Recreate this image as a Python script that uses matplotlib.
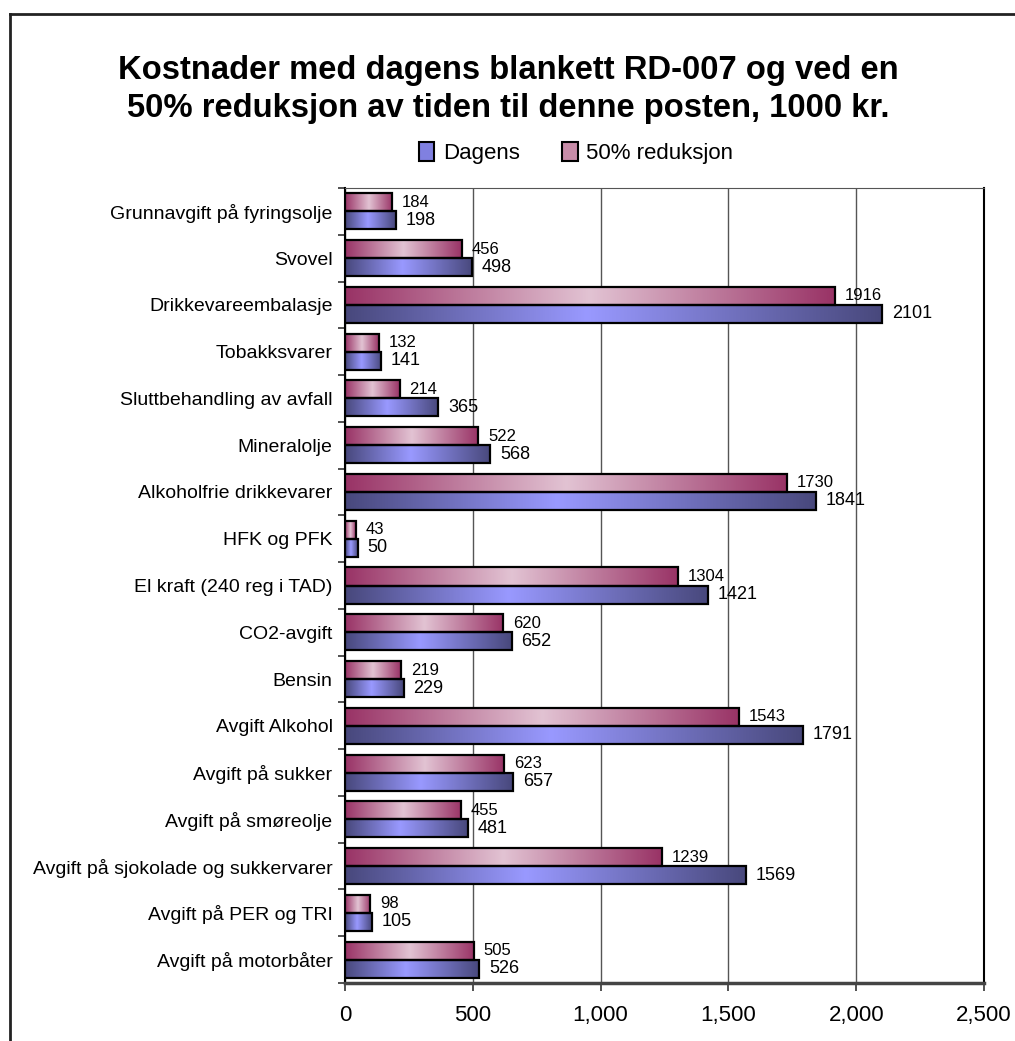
import numpy as np
import matplotlib
matplotlib.use("Agg")
import matplotlib.pyplot as plt
from matplotlib.colors import LinearSegmentedColormap
from matplotlib.patches import Patch
from matplotlib.lines import Line2D

plt.rcParams['font.family'] = ['Liberation Sans', 'DejaVu Sans']

categories = [
    "Grunnavgift på fyringsolje",
    "Svovel",
    "Drikkevareembalasje",
    "Tobakksvarer",
    "Sluttbehandling av avfall",
    "Mineralolje",
    "Alkoholfrie drikkevarer",
    "HFK og PFK",
    "El kraft (240 reg i TAD)",
    "CO2-avgift",
    "Bensin",
    "Avgift Alkohol",
    "Avgift på sukker",
    "Avgift på smøreolje",
    "Avgift på sjokolade og sukkervarer",
    "Avgift på PER og TRI",
    "Avgift på motorbåter",
]
dagens = [198, 498, 2101, 141, 365, 568, 1841, 50, 1421, 652, 229, 1791, 657, 481, 1569, 105, 526]
reduksjon = [184, 456, 1916, 132, 214, 522, 1730, 43, 1304, 620, 219, 1543, 623, 455, 1239, 98, 505]
xticks = [0, 500, 1000, 1500, 2000, 2500]

W, H = 1015, 1041
fig = plt.figure(figsize=(W / 100, H / 100), dpi=100)

# outer chart frame (runs off the right and bottom edge)
fig.add_artist(Line2D([10 / W, 10 / W], [0, 1 - 14 / H], color="#222222", lw=2))
fig.add_artist(Line2D([10 / W, 1], [1 - 14 / H, 1 - 14 / H], color="#222222", lw=2))

ax = fig.add_axes([345 / W, 1 - 983 / H, (984 - 345) / W, (983 - 188) / H])

blue_cmap = LinearSegmentedColormap.from_list(
    "blue", [(0, "#48487c"), (0.45, "#9999ff"), (1, "#48487c")])
pink_cmap = LinearSegmentedColormap.from_list(
    "pink", [(0, "#993366"), (0.5, "#e2c3d3"), (1, "#993366")])
grad = np.linspace(0, 1, 256).reshape(1, -1)

y = np.arange(len(categories))
h = 0.385
bars_red = ax.barh(y - h / 2, reduksjon, height=h, facecolor="none",
                   edgecolor="black", lw=1.6, zorder=4)
bars_dag = ax.barh(y + h / 2, dagens, height=h, facecolor="none",
                   edgecolor="black", lw=1.6, zorder=4)

# gradient fill, dark at both ends and light in the middle
for bars, cmap in ((bars_red, pink_cmap), (bars_dag, blue_cmap)):
    for b in bars:
        x0, y0 = b.get_x(), b.get_y()
        ax.imshow(grad, cmap=cmap, aspect="auto", zorder=3,
                  extent=[x0, x0 + b.get_width(), y0 + b.get_height(), y0])

for b, v in zip(bars_red, reduksjon):
    ax.annotate(str(v), (b.get_width(), b.get_y() + b.get_height() / 2),
                xytext=(7, 0), textcoords="offset points", va="center",
                fontsize=12, zorder=5)
for b, v in zip(bars_dag, dagens):
    ax.annotate(str(v), (b.get_width(), b.get_y() + b.get_height() / 2),
                xytext=(7, 0), textcoords="offset points", va="center",
                fontsize=13, zorder=5)

ax.set_xlim(0, 2500)
ax.set_ylim(len(categories) - 0.5, -0.5)
ax.set_xticks(xticks)
ax.set_xticklabels([f"{t:,}" for t in xticks], fontsize=16)
ax.set_yticks(y)
ax.set_yticklabels(categories, fontsize=14)
ax.set_yticks(np.arange(len(categories) + 1) - 0.5, minor=True)
ax.tick_params(axis="y", which="major", length=0, pad=9)
ax.tick_params(axis="y", which="minor", length=5, width=1.2, color="#333333")
ax.tick_params(axis="x", length=6, width=1.2, color="#333333", pad=10)

ax.grid(axis="x", color="#555555", lw=1, zorder=1)
ax.spines["top"].set_color("#555555")
ax.spines["right"].set_color("black")
ax.spines["right"].set_linewidth(1.5)
ax.spines["left"].set_color("black")
ax.spines["left"].set_linewidth(1.5)
ax.spines["bottom"].set_color("#444444")
ax.spines["bottom"].set_linewidth(2.5)

fig.text(508 / W, 1 - 70 / H, "Kostnader med dagens blankett RD-007 og ved en",
         ha="center", va="center", fontsize=23.6, fontweight="bold")
fig.text(508 / W, 1 - 108 / H, "50% reduksjon av tiden til denne posten, 1000 kr.",
         ha="center", va="center", fontsize=23.6, fontweight="bold")

handles = [Patch(facecolor="#8080e0", edgecolor="black", lw=1.5),
           Patch(facecolor="#c88ca8", edgecolor="black", lw=1.5)]
fig.legend(handles, ["Dagens", "50% reduksjon"], ncol=2, frameon=False,
           loc="center", bbox_to_anchor=(576 / W, 1 - 153 / H), fontsize=16,
           handlelength=0.7, handleheight=0.9, handletextpad=0.4,
           columnspacing=1.9)

fig.savefig("out.png", dpi=100)
